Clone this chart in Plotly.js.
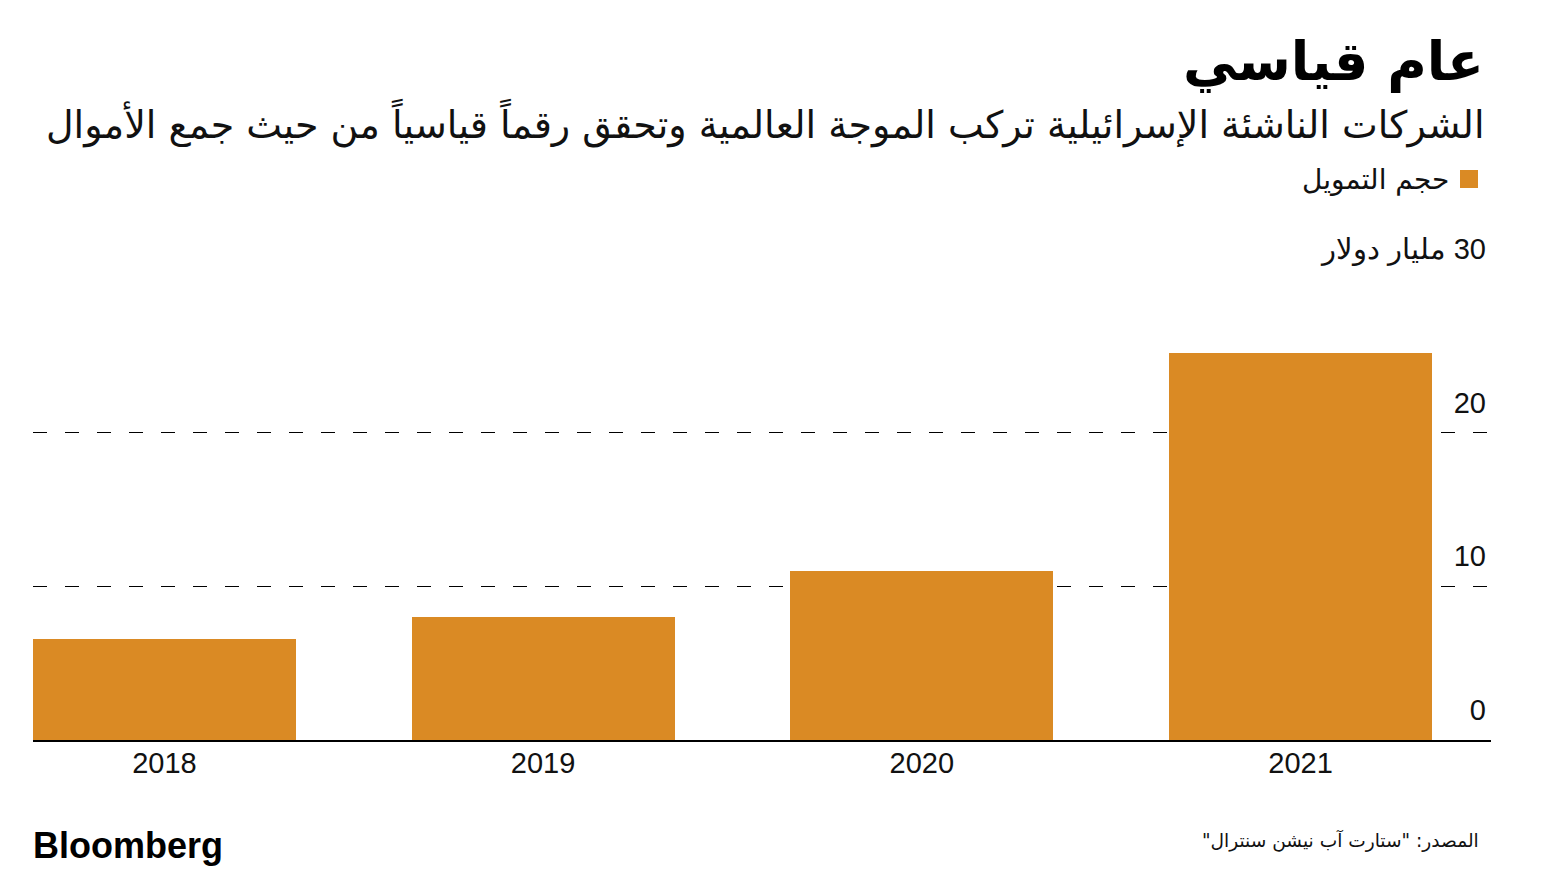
<!DOCTYPE html>
<html>
<head>
<meta charset="utf-8">
<script src="https://cdn.plot.ly/plotly-3.0.1.min.js"></script>
<style>html,body{margin:0;padding:0;background:#fff;}#chart{width:1544px;height:879px;}</style>
</head>
<body>
<div id="chart"></div>
<script>
// ---- data ----
const years = ['2018', '2019', '2020', '2021'];
const funding = [6.6, 8.0, 11.0, 25.2]; // مليار دولار
const gridTicks = [10, 20];
const labelTicks = [0, 10, 20, 30];
const labelTexts = ['0', '10', '20', '\u200F30 مليار دولار'];
const seriesName = 'حجم التمويل';
const titleText = 'عام قياسي';
const subtitleText = 'الشركات الناشئة الإسرائيلية تركب الموجة العالمية وتحقق رقماً قياسياً من حيث جمع الأموال';
const sourceText = '\u200Fالمصدر: "ستارت آب نيشن سنترال"\u200F';

// ---- layout helpers ----
const W = 1544, H = 879;
const yTop = 36;
const pxPerUnit = 15.35;
const bottomPx = 740;
const M = {l: 33, r: 53, t: Math.round(bottomPx - yTop * pxPerUnit), b: H - bottomPx};
const pw = W - M.l - M.r, ph = H - M.t - M.b;
const px = x => (x - M.l) / pw;
const py = y => (H - M.b - y) / ph;

const barColor = '#DA8A24';
const latin = '"Liberation Sans", Arial, sans-serif';
const arabic = '"DejaVu Sans", "Noto Sans", sans-serif';

const trace = {
  type: 'bar',
  x: years,
  y: funding,
  name: seriesName,
  width: 0.694,
  marker: {color: barColor, line: {width: 0}},
  showlegend: false,
  hoverinfo: 'x+y'
};

const layout = {
  width: W, height: H,
  margin: M,
  paper_bgcolor: '#fff', plot_bgcolor: 'rgba(0,0,0,0)',
  showlegend: false,
  xaxis: {
    type: 'category',
    range: [-0.347, 3.503],
    showline: true, linecolor: '#000', linewidth: 2,
    ticks: '', showgrid: false, zeroline: false,
    tickfont: {family: latin, size: 29, color: '#111'},
    ticklabelstandoff: -4,
    fixedrange: true
  },
  yaxis: {
    range: [0, yTop],
    tickvals: gridTicks,
    showticklabels: false,
    showgrid: true, gridcolor: '#000', gridwidth: 1, griddash: '14px,18px',
    zeroline: false, showline: false, ticks: '',
    fixedrange: true
  },
  yaxis2: {
    overlaying: 'y', side: 'right',
    range: [0, yTop],
    tickvals: labelTicks, ticktext: labelTexts,
    ticklabelposition: 'inside top',
    ticklabelshift: -10,
    ticklabelstandoff: 2,
    showgrid: false, zeroline: false, showline: false, ticks: '',
    tickfont: {family: latin, size: 29, color: '#111'},
    fixedrange: true
  },
  bargap: 0,
  shapes: [
    {type: 'rect', xref: 'paper', yref: 'paper', x0: px(1460), x1: px(1478), y0: py(188), y1: py(170),
     fillcolor: barColor, line: {width: 0}}
  ],
  annotations: [
    {text: titleText, xref: 'paper', yref: 'paper', x: px(1486), y: py(62),
     xanchor: 'right', yanchor: 'middle', showarrow: false,
     font: {family: arabic, size: 54, color: '#000', weight: 'bold'}},
    {text: subtitleText, xref: 'paper', yref: 'paper', x: px(1486), y: py(123),
     xanchor: 'right', yanchor: 'middle', showarrow: false,
     font: {family: arabic, size: 38, color: '#111'}},
    {text: seriesName, xref: 'paper', yref: 'paper', x: px(1451), y: py(180),
     xanchor: 'right', yanchor: 'middle', showarrow: false,
     font: {family: arabic, size: 28, color: '#111'}},
    {text: 'Bloomberg', xref: 'paper', yref: 'paper', x: px(31), y: py(845),
     xanchor: 'left', yanchor: 'middle', showarrow: false,
     font: {family: latin, size: 36, color: '#000', weight: 'bold'}},
    {text: sourceText, xref: 'paper', yref: 'paper', x: px(1481), y: py(840),
     xanchor: 'right', yanchor: 'middle', showarrow: false,
     font: {family: arabic, size: 18.6, color: '#111'}}
  ]
};

// invisible trace so the right-hand label axis is drawn
const y2trace = {type: 'scatter', x: years, y: funding, yaxis: 'y2', mode: 'none', hoverinfo: 'skip', showlegend: false};

Plotly.newPlot('chart', [trace, y2trace], layout, {displayModeBar: false, staticPlot: true});
</script>
</body>
</html>
